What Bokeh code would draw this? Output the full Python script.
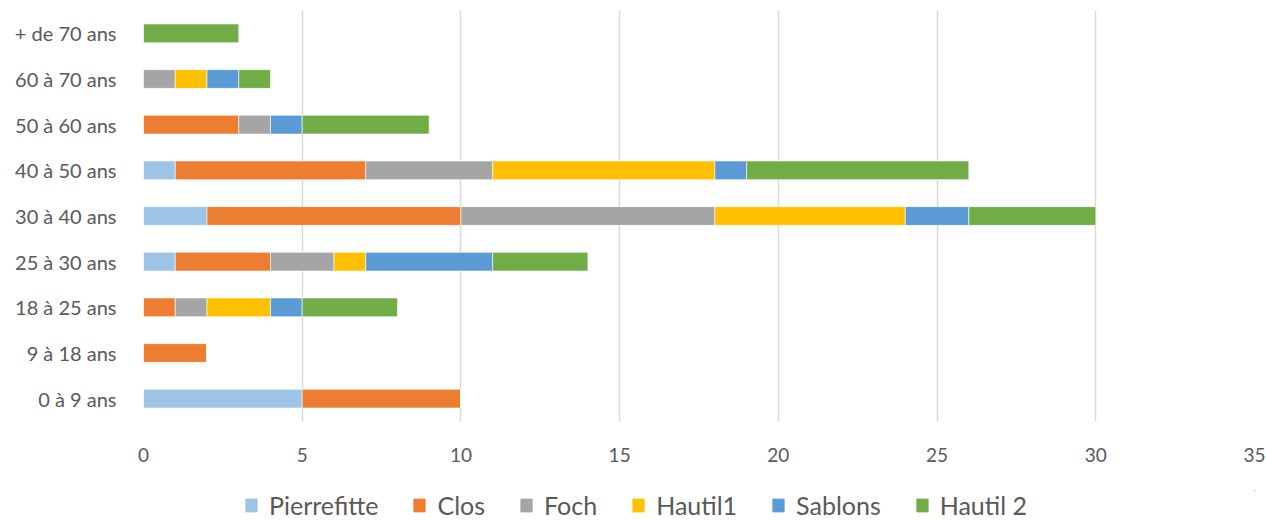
from bokeh.plotting import figure
from bokeh.layouts import column
from bokeh.models import ColumnDataSource, FactorRange, Range1d, Legend, LegendItem, FixedTicker
from bokeh.embed import file_html
from bokeh.resources import INLINE

categories = ["0 à 9 ans", "9 à 18 ans", "18 à 25 ans", "25 à 30 ans", "30 à 40 ans",
              "40 à 50 ans", "50 à 60 ans", "60 à 70 ans", "+ de 70 ans"]
series = ["Pierrefitte", "Clos", "Foch", "Hautil1", "Sablons", "Hautil 2"]
pierrefitte = [5, 0, 0, 1, 2, 1, 0, 0, 0]
clos = [5, 2, 1, 3, 8, 6, 3, 0, 0]
foch = [0, 0, 1, 2, 8, 4, 1, 1, 0]
hautil1 = [0, 0, 2, 1, 6, 7, 0, 1, 0]
sablons = [0, 0, 1, 4, 2, 1, 1, 1, 0]
hautil2 = [0, 0, 3, 3, 4, 7, 4, 1, 3]
colors = ["#9DC3E6", "#ED7D31", "#A5A5A5", "#FFC000", "#5B9BD5", "#70AD47"]
x_ticks = [0, 5, 10, 15, 20, 25, 30, 35]

FONT = "Lato"
TXT = "#595959"

data = {"cat": categories}
for name, vals in zip(series, [pierrefitte, clos, foch, hautil1, sablons, hautil2]):
    data[name] = vals
src = ColumnDataSource(data)

p = figure(width=1266, height=490, output_backend="svg", toolbar_location=None,
           y_range=FactorRange(factors=categories, range_padding=0),
           x_range=Range1d(0, 35),
           min_border_left=143, min_border_right=12, min_border_top=10, min_border_bottom=69)
p.outline_line_color = None
p.background_fill_color = "white"
p.border_fill_color = "white"

p.hbar_stack(series, y="cat", height=0.41, source=src, color=colors,
             line_color="white", line_width=0.6)

p.xaxis.ticker = FixedTicker(ticks=x_ticks)
p.xaxis.axis_line_color = None
p.xaxis.major_tick_line_color = None
p.xaxis.minor_tick_line_color = None
p.xaxis.major_label_text_font = FONT
p.xaxis.major_label_text_font_size = "19px"
p.xaxis.major_label_text_color = TXT
p.xaxis.major_label_standoff = 20

p.yaxis.axis_line_color = None
p.yaxis.major_tick_line_color = None
p.yaxis.major_label_text_font = FONT
p.yaxis.major_label_text_font_size = "20px"
p.yaxis.major_label_text_color = TXT
p.yaxis.major_label_standoff = 21

p.xgrid.grid_line_color = "#D9D9D9"
p.xgrid.grid_line_width = 1.5
p.ygrid.grid_line_color = None

# legend strip under the chart; its swatch bars sit outside the strip's visible range
lg = figure(width=1266, height=30, output_backend="svg", toolbar_location=None,
            x_range=Range1d(0, 1), y_range=Range1d(0, 1),
            min_border_left=0, min_border_right=0, min_border_top=0, min_border_bottom=0)
lg.axis.visible = False
lg.grid.visible = False
lg.outline_line_color = None
lg.border_fill_color = "white"
lg.background_fill_color = "white"
swatch_src = ColumnDataSource(dict(y=[5], left=[4], right=[5]))
dummies = [lg.hbar(y="y", left="left", right="right", height=0.5, color=c, source=swatch_src)
           for c in colors]

legend = Legend(items=[LegendItem(label=s, renderers=[r]) for s, r in zip(series, dummies)],
                orientation="horizontal", location=(101, 0),
                label_text_font=FONT, label_text_font_size="25px", label_text_color=TXT,
                glyph_width=14, glyph_height=16, spacing=34, label_standoff=11,
                border_line_color=None, background_fill_alpha=0, padding=0, margin=0)
lg.add_layout(legend, "center")

open("out.html", "w").write(file_html(column(p, lg, spacing=0), INLINE))
